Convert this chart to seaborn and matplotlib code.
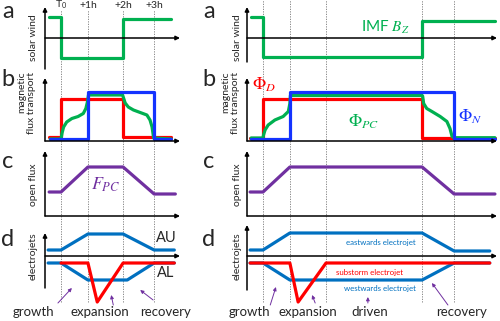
import numpy as np
import pandas as pd
import seaborn as sns
import matplotlib.pyplot as plt

sns.set_theme(style="white")
plt.rcParams['font.family'] = ['Lato', 'DejaVu Sans']
plt.rcParams['mathtext.fontset'] = 'stix'

GREEN = "#00B050"
RED = "#FF0000"
BLUE = "#1433FF"
EJ_BLUE = "#0070C0"
PURPLE = "#7030A0"

# time in minutes after T0
left_marks = [0, 52, 120, 180]
left_tick_labels = [r"T$_\mathregular{0}$", "+1h", "+2h", "+3h"]
right_marks = [0, 52, 122, 308, 370]

# a: solar wind / IMF Bz
left_bz_t = [-23, 0, 0, 120, 120, 213]
left_bz = [21, 21, -20, -20, 19, 19]
right_bz_t = [-23, 0, 0, 308, 308, 449]
right_bz = [21, 21, -19, -19, 17, 17]

# b: dayside (red), polar cap (green) and nightside (blue) flux transport
left_phid_t = [-23, 0, 0, 120, 120, 213]
left_phid = [4, 4, 42, 42, 4, 4]
left_phin_t = [-21, 52, 52, 180, 180, 213]
left_phin = [2, 2, 49, 49, 2, 2]
left_phipc_t = [-21, 0, 2, 5, 11, 21, 33, 43, 48, 51, 53, 119, 124, 130, 140,
                153, 166, 172, 176, 179, 213]
left_phipc = [2, 2, 8, 14, 19, 22.5, 24.5, 27.5, 32.5, 39, 46, 46, 38, 34, 31,
              28.5, 26, 21, 14, 3, 2]
right_phid_t = [-25, 0, 0, 308, 308, 449]
right_phid = [3, 3, 42, 42, 3, 3]
right_phin_t = [-23, 52, 52, 370, 370, 449]
right_phin = [2, 2, 49, 49, 2, 2]
right_phipc_t = [-23, 0, 1, 4, 10, 23, 39, 49, 52, 53, 308, 309, 311, 317, 327,
                 343, 356, 362, 366, 370, 449]
right_phipc = [3, 3, 6, 11, 16, 21, 24.5, 29.5, 37.5, 45.5, 45.5, 45, 37.5, 32.5,
               29.5, 24.5, 19.5, 12.5, 4.5, 3.3, 3.3]

# c: open flux
left_fpc_t = [-23, 0, 52, 120, 180, 221]
left_fpc = [24, 24, 49, 49, 22, 22]
right_fpc_t = [-25, 0, 52, 308, 370, 449]
right_fpc = [24, 24, 49, 49, 22, 22]

# d: electrojets
left_au_t = [-25, 0, 52, 120, 180, 219]
left_au = [6, 6, 22, 22, 6, 6]
left_al_t = [-25, 0, 52, 128, 180, 219]
left_al = [-7, -7, -24, -24, -7, -7]
left_sub_t = [0, 52, 70, 120, 219]
left_sub = [-7, -7, -46, -7, -7]
right_east_t = [-25, 0, 52, 308, 370, 439]
right_east = [6, 6, 23, 23, 5, 5]
right_west_t = [-25, 0, 52, 308, 370, 439]
right_west = [-7, -7, -24, -24, -7, -7]
right_sub_t = [-25, 52, 68, 122, 439]
right_sub = [-7, -7, -46, -7, -7]

W, H = 500, 321
fig = plt.figure(figsize=(W / 100, H / 100), dpi=100)


def px_axes(x0, x1, y0, y1, xlim, ylim, z=2):
    ax = fig.add_axes([x0 / W, 1 - y1 / H, (x1 - x0) / W, (y1 - y0) / H], zorder=z)
    ax.set_xlim(*xlim)
    ax.set_ylim(*ylim)
    ax.set_facecolor("none")
    ax.axis("off")
    return ax


def arrow_axes(ax, y_lo, y_hi, x_axis_y):
    x0, x1 = ax.get_xlim()
    kw = dict(arrowstyle="-|>", lw=1.1, color="black", mutation_scale=6,
              shrinkA=0, shrinkB=0)
    ax.annotate("", xy=(x0, y_hi), xytext=(x0, y_lo), arrowprops=kw,
                annotation_clip=False)
    ax.annotate("", xy=(x1, x_axis_y), xytext=(x0, x_axis_y), arrowprops=kw,
                annotation_clip=False)


def line(ax, t, v, color, lw=2.3):
    sns.lineplot(x=t, y=v, estimator=None, sort=False, color=color, lw=lw,
                 ax=ax, legend=False)
    ax.axis("off")


LX = (-31, 230)
RX = (-31, 453)
cols = [(45, 180, LX), (247, 497, RX)]

# dotted phase boundaries through all rows
for (x0, x1, xl), marks, top in zip(cols, [left_marks, right_marks], [10, 0]):
    bg = px_axes(x0, x1, 0, H, xl, (0, 1), z=1)
    for m in marks:
        bg.axvline(m, ymin=1 - 302 / H, ymax=1 - top / H, color="#777777",
                   ls=(0, (1.5, 1.5)), lw=0.6)

# row a
axa_l = px_axes(45, 180, 7, 69, LX, (-31, 31))
arrow_axes(axa_l, -31, 31, 0)
line(axa_l, left_bz_t, left_bz, GREEN)
for m, lab in zip(left_marks, left_tick_labels):
    axa_l.text(m, 1.03, lab, transform=axa_l.get_xaxis_transform(),
               ha="center", va="center", fontsize=7.5)
axa_r = px_axes(247, 497, 7, 69, RX, (-31, 31))
arrow_axes(axa_r, -24, 31, 0)
line(axa_r, right_bz_t, right_bz, GREEN)
axa_r.text(236, 11, r"IMF $B_Z$", color=GREEN, fontsize=11, ha="center", va="center")

# row b
axb_l = px_axes(45, 180, 78, 141, LX, (0, 63))
arrow_axes(axb_l, 0, 63, 0)
line(axb_l, left_phid_t, left_phid, RED)
line(axb_l, left_phipc_t, left_phipc, GREEN)
line(axb_l, left_phin_t, left_phin, BLUE)
axb_r = px_axes(247, 497, 78, 141, RX, (0, 63))
arrow_axes(axb_r, 0, 63, 0)
line(axb_r, right_phid_t, right_phid, RED)
line(axb_r, right_phipc_t, right_phipc, GREEN)
line(axb_r, right_phin_t, right_phin, BLUE)
axb_r.text(2, 56, r"$\Phi_D$", color=RED, fontsize=12.5, ha="center", va="center")
axb_r.text(195, 19, r"$\Phi_{PC}$", color=GREEN, fontsize=12.5, ha="center", va="center")
axb_r.text(402, 24, r"$\Phi_N$", color=BLUE, fontsize=12.5, ha="center", va="center")

# row c
axc_l = px_axes(45, 180, 151, 216, LX, (0, 65))
arrow_axes(axc_l, 0, 65, 0)
line(axc_l, left_fpc_t, left_fpc, PURPLE)
axc_l.text(87, 31, r"$F_{PC}$", color=PURPLE, fontsize=13, ha="center", va="center")
axc_r = px_axes(247, 497, 151, 216, RX, (0, 65))
arrow_axes(axc_r, 0, 65, 0)
line(axc_r, right_fpc_t, right_fpc, PURPLE)

# row d
axd_l = px_axes(45, 180, 222, 306, LX, (-50, 34))
arrow_axes(axd_l, -32, 23, 0)
line(axd_l, left_au_t, left_au, EJ_BLUE)
line(axd_l, left_al_t, left_al, EJ_BLUE)
line(axd_l, left_sub_t, left_sub, RED)
axd_l.text(203, 18, "AU", fontsize=10.5, ha="center", va="center")
axd_l.text(203, -17, "AL", fontsize=10.5, ha="center", va="center")
axd_r = px_axes(247, 497, 222, 306, RX, (-50, 34))
arrow_axes(axd_r, -34, 31, 0)
line(axd_r, right_east_t, right_east, EJ_BLUE)
line(axd_r, right_west_t, right_west, EJ_BLUE)
line(axd_r, right_sub_t, right_sub, RED)
axd_r.text(228, 13, "eastwards electrojet", color=EJ_BLUE, fontsize=5.7, ha="center", va="center")
axd_r.text(207, -17, "substorm electrojet", color=RED, fontsize=5.7, ha="center", va="center")
axd_r.text(226, -32, "westwards electrojet", color=EJ_BLUE, fontsize=5.7, ha="center", va="center")

# phase names with pointers
akw = dict(arrowstyle="-|>", lw=0.7, color=PURPLE, mutation_scale=5, shrinkA=0, shrinkB=0)
phases_l = [("growth", -54, (-6, -47), (21, -32)),
            ("expansion", 75, (101, -49), (97, -39)),
            ("recovery", 203, (178, -44), (153, -34))]
phases_r = [("growth", -27, (14, -49), (25, -31)),
            ("expansion", 87, (101, -47), (95, -39)),
            ("driven", 207, (203, -47), (203, -41)),
            ("recovery", 385, (358, -49), (327, -27))]
for ax, phases in [(axd_l, phases_l), (axd_r, phases_r)]:
    for name, tx, tail, tip in phases:
        ax.text(tx, -56, name, fontsize=9.5, ha="center", va="center", clip_on=False)
        ax.annotate("", xy=tip, xytext=tail, arrowprops=akw, annotation_clip=False)

# panel letters and row titles
for x in (8, 209):
    for y, ch in zip((11, 80, 162, 239), "abcd"):
        fig.text(x / W, 1 - y / H, ch, fontsize=17, ha="center", va="center")
for x in (33, 237):
    fig.text(x / W, 1 - 38 / H, "solar wind", rotation=90, fontsize=7.5, ha="center", va="center")
    fig.text((x - 6) / W, 1 - 103 / H, "magnetic\nflux transport", rotation=90, fontsize=7.5,
             ha="center", va="center", linespacing=1.1, multialignment="right")
    fig.text(x / W, 1 - 185 / H, "open flux", rotation=90, fontsize=7.5, ha="center", va="center")
    fig.text(x / W, 1 - 256 / H, "electrojets", rotation=90, fontsize=7.5, ha="center", va="center")

fig.savefig("out.png", dpi=100)
